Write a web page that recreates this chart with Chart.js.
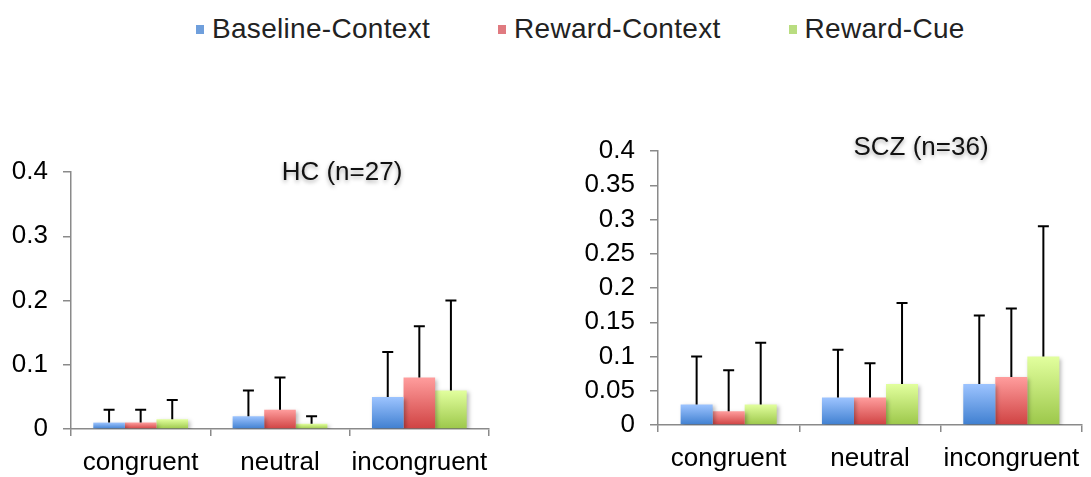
<!DOCTYPE html>
<html>
<head>
<meta charset="utf-8">
<script src="https://cdn.jsdelivr.net/npm/chart.js@4.4.1/dist/chart.umd.min.js"></script>
<style>
  body { margin: 0; background: #fff; width: 1091px; height: 477px; position: relative; overflow: hidden;
         font-family: Arial, "Liberation Sans", sans-serif; }
  #legend { position: absolute; left: 196px; top: 12px; height: 34px; display: flex; align-items: center; }
  #legend .item { display: flex; align-items: center; margin-right: 68px; }
  #legend .box { width: 8px; height: 9px; margin-right: 8px; }
  #legend .lbl { font-size: 28px; color: #222; letter-spacing: 0.3px; }
  .wrap { position: absolute; }
  #wrapHC { left: 0; top: 150px; width: 520px; height: 327px; }
  #wrapSCZ { left: 560px; top: 130px; width: 531px; height: 347px; }
</style>
</head>
<body>
<div id="legend"></div>
<div class="wrap" id="wrapHC"><canvas id="graficoHC"></canvas></div>
<div class="wrap" id="wrapSCZ"><canvas id="graficoSCZ"></canvas></div>

<script>
// --- dados ---
const categories = ["congruent", "neutral", "incongruent"];
const seriesNames = ["Baseline-Context", "Reward-Context", "Reward-Cue"];

// HC (n=27)
const hcBaseline = [0.01, 0.02, 0.05];
const hcReward = [0.01, 0.03, 0.08];
const hcCue = [0.015, 0.008, 0.06];
const hcBaselineErr = [0.02, 0.04, 0.07];
const hcRewardErr = [0.02, 0.05, 0.08];
const hcCueErr = [0.03, 0.012, 0.14];
const hcTicks = [0, 0.1, 0.2, 0.3, 0.4];

// SCZ (n=36)
const sczBaseline = [0.03, 0.04, 0.06];
const sczReward = [0.02, 0.04, 0.07];
const sczCue = [0.03, 0.06, 0.10];
const sczBaselineErr = [0.07, 0.07, 0.10];
const sczRewardErr = [0.06, 0.05, 0.10];
const sczCueErr = [0.09, 0.118, 0.19];
const sczTicks = [0, 0.05, 0.1, 0.15, 0.2, 0.25, 0.3, 0.35, 0.4];

// cores (topo claro -> base escura)
const palette = [
  { top: "#9dc4ff", bottom: "#3f7fd0", legend: "#6f9fdc" },
  { top: "#ff9d9d", bottom: "#cf4242", legend: "#e07a80" },
  { top: "#e2ff9e", bottom: "#9cc74a", legend: "#b9dd80" },
];

// legenda compartilhada
const legendEl = document.getElementById("legend");
seriesNames.forEach((nome, i) => {
  const item = document.createElement("div");
  item.className = "item";
  item.innerHTML = '<span class="box" style="background:' + palette[i].legend + '"></span><span class="lbl">' + nome + "</span>";
  legendEl.appendChild(item);
});

// gradiente por barra
function barGradient(i) {
  return (ctx) => {
    const chart = ctx.chart;
    const y = chart.scales.y;
    if (ctx.type !== "data" || !y || !chart.chartArea) return palette[i].bottom;
    const top = y.getPixelForValue(ctx.parsed.y);
    const base = y.getPixelForValue(0);
    if (!isFinite(top) || !isFinite(base) || top === base) return palette[i].bottom;
    const g = chart.ctx.createLinearGradient(0, top, 0, base);
    g.addColorStop(0, palette[i].top);
    g.addColorStop(1, palette[i].bottom);
    return g;
  };
}

// sombra + barras de erro (só para cima)
const errorBarsPlugin = {
  id: "errorBars",
  beforeDatasetsDraw(chart) {
    const c = chart.ctx;
    c.save();
    c.shadowColor = "rgba(0,0,0,0.28)";
    c.shadowBlur = 4;
    c.shadowOffsetX = 2;
    c.shadowOffsetY = 2;
  },
  afterDatasetsDraw(chart) {
    const c = chart.ctx;
    c.restore();
    const y = chart.scales.y;
    c.save();
    c.strokeStyle = "#000";
    c.lineWidth = 2;
    chart.data.datasets.forEach((ds, i) => {
      const meta = chart.getDatasetMeta(i);
      meta.data.forEach((bar, j) => {
        const yTop = y.getPixelForValue(ds.data[j] + ds.errors[j]);
        c.beginPath();
        c.moveTo(bar.x, bar.y);
        c.lineTo(bar.x, yTop);
        c.moveTo(bar.x - 5.5, yTop);
        c.lineTo(bar.x + 5.5, yTop);
        c.stroke();
      });
    });
    c.restore();
  },
};

// título dentro da área do gráfico
const panelTitlePlugin = {
  id: "panelTitle",
  afterDraw(chart, args, opts) {
    const c = chart.ctx;
    c.save();
    c.font = "26px Arial, 'Liberation Sans', sans-serif";
    c.fillStyle = "#111";
    c.textAlign = "center";
    c.textBaseline = "middle";
    c.shadowColor = "rgba(0,0,0,0.35)";
    c.shadowBlur = 4;
    c.shadowOffsetY = 2;
    c.fillText(opts.text, opts.x, opts.y);
    c.restore();
  },
};

function criarPainel(canvasId, valores, erros, ticks, cfg) {
  const axisColor = "#8a8a8a";
  const fonte = { family: "Arial, 'Liberation Sans', sans-serif", size: 26 };
  new Chart(document.getElementById(canvasId), {
    type: "bar",
    data: {
      labels: categories,
      datasets: seriesNames.map((nome, i) => ({
        label: nome,
        data: valores[i],
        errors: erros[i],
        backgroundColor: barGradient(i),
        borderWidth: 0,
        barPercentage: 1,
        categoryPercentage: 0.68,
      })),
    },
    options: {
      responsive: true,
      maintainAspectRatio: false,
      animation: false,
      layout: { padding: { top: cfg.padTop, right: cfg.padRight, left: 0, bottom: 0 } },
      plugins: {
        legend: { display: false },
        tooltip: { enabled: false },
        panelTitle: { text: cfg.title, x: cfg.titleX, y: cfg.titleY },
      },
      scales: {
        x: {
          grid: { drawOnChartArea: false, color: axisColor, lineWidth: 1.5, tickLength: 7, offset: true },
          border: { color: axisColor, width: 1.5 },
          ticks: { color: "#000", font: fonte, padding: 11, maxRotation: 0, autoSkip: false },
          afterFit: (axis) => { axis.height = cfg.xHeight; axis.paddingLeft = 0; axis.paddingRight = 0; },
        },
        y: {
          min: 0,
          max: 0.4,
          grid: { drawOnChartArea: false, color: axisColor, lineWidth: 1.5, tickLength: 8 },
          border: { color: axisColor, width: 1.5 },
          ticks: { color: "#000", font: fonte, padding: 15, callback: (v) => String(+Number(v).toFixed(2)) },
          afterBuildTicks: (axis) => { axis.ticks = ticks.map((v) => ({ value: v })); },
          afterFit: (axis) => { axis.width = cfg.yWidth; axis.paddingTop = 0; axis.paddingBottom = 0; },
        },
      },
    },
    plugins: [errorBarsPlugin, panelTitlePlugin],
  });
}

criarPainel(
  "graficoHC",
  [hcBaseline, hcReward, hcCue],
  [hcBaselineErr, hcRewardErr, hcCueErr],
  hcTicks,
  { title: "HC (n=27)", titleX: 342, titleY: 23, padTop: 22, padRight: 31, yWidth: 71, xHeight: 48 }
);

criarPainel(
  "graficoSCZ",
  [sczBaseline, sczReward, sczCue],
  [sczBaselineErr, sczRewardErr, sczCueErr],
  sczTicks,
  { title: "SCZ (n=36)", titleX: 361, titleY: 18, padTop: 21, padRight: 9, yWidth: 98, xHeight: 52 }
);
</script>
</body>
</html>
